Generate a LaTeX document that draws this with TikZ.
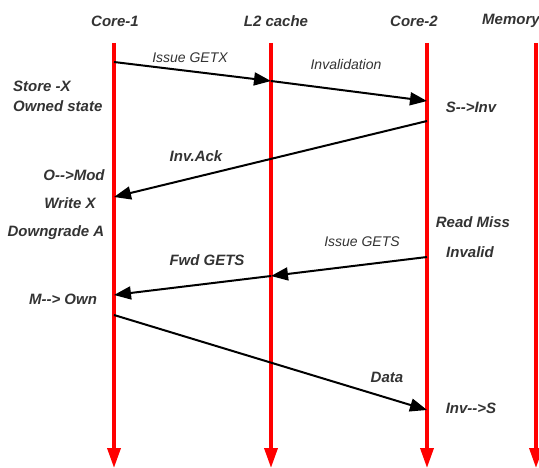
\documentclass[tikz,border=0pt]{standalone}
\usepackage{fontspec}
\setmainfont{Liberation Sans}
\usetikzlibrary{positioning,arrows.meta}

\tikzset{
  life/.style={red, line width=3.5pt, -{Triangle[length=20pt,width=13pt]}},
  msg/.style={black, line width=2pt, -{Triangle[length=17pt,width=13pt]}},
  tag/.style={text=black!80, inner sep=0pt, font=\fontsize{15}{17}\selectfont\bfseries\itshape},
  note/.style={text=black!80, inner sep=0pt, font=\fontsize{14}{16}\selectfont\itshape}
}

\begin{document}
\begin{tikzpicture}[x=1pt,y=-1pt]
\useasboundingbox (0,0) rectangle (539,468);

% heads of the four lifelines
\node[tag] (core1) at (115,21) {Core-1};
\node[tag] (l2) at (276,21) {L2 cache};
\node[tag] (core2) at (414,21) {Core-2};
\node[tag, anchor=west] (mem) at (482,21) {Memory};

% lifelines
\coordinate (c1top) at (114,43); \coordinate (c1bot) at (114,468);
\coordinate (l2top) at (271,43); \coordinate (l2bot) at (271,468);
\coordinate (c2top) at (427,43); \coordinate (c2bot) at (427,468);
\coordinate (memtop) at (536,43); \coordinate (membot) at (536,468);
\draw[life] (c1top) -- (c1bot);
\draw[life] (l2top) -- (l2bot);
\draw[life] (c2top) -- (c2bot);
\draw[life] (memtop) -- (membot);

% message ends
\coordinate (c1a) at (114,62);  \coordinate (l2a) at (271,81);  \coordinate (c2a) at (427,101);
\coordinate (c2b) at (427,121); \coordinate (c1b) at (114,197);
\coordinate (c2c) at (427,257); \coordinate (l2c) at (271,276); \coordinate (c1c) at (114,295);
\coordinate (c1d) at (114,315); \coordinate (c2d) at (427,410);

\draw[msg] (c1a) -- (l2a);
\draw[msg] (l2a) -- (c2a);
\draw[msg] (c2b) -- (c1b);
\draw[msg] (c2c) -- (l2c);
\draw[msg] (l2c) -- (c1c);
\draw[msg] (c1d) -- (c2d);

% message labels
\node[note] (getx) at (190,58) {Issue GETX};
\node[note] (inval) at (346,65) {Invalidation};
\node[tag] (ack) at (196,156) {Inv.Ack};
\node[note] (gets) at (362,242) {Issue GETS};
\node[tag] (fwd) at (207,260) {Fwd GETS};
\node[tag] (data) at (387,377) {Data};

% state changes
\node[tag, anchor=west] (store) at (13,86) {Store -X};
\node[tag, anchor=west] (owned) at (13,106) {Owned state};
\node[tag] (s2inv) at (471,107) {S-{}->Inv};
\node[tag] (o2mod) at (74,175) {O-{}->Mod};
\node[tag] (write) at (70,203) {Write X};
\node[tag] (down) at (56,233) {Downgrade A};
\node[tag] (miss) at (473,222) {Read Miss};
\node[tag] (invalid) at (470,252) {Invalid};
\node[tag] (m2own) at (63,299) {M-{}-> Own};
\node[tag] (inv2s) at (471,408) {Inv-{}->S};
\end{tikzpicture}
\end{document}
